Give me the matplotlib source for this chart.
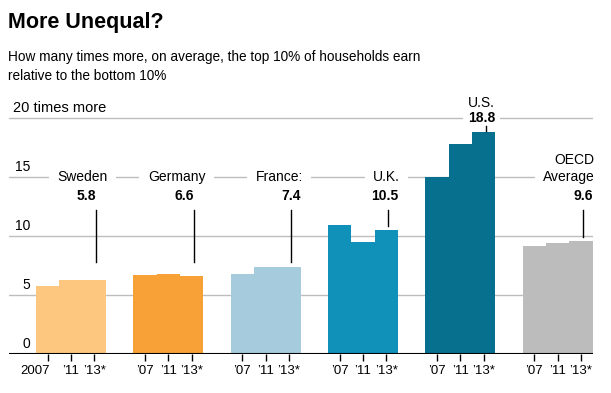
import matplotlib
matplotlib.use("Agg")
import matplotlib.pyplot as plt
import matplotlib.transforms as mtransforms
import numpy as np

countries = ["Sweden", "Germany", "France:", "U.K.", "U.S.", "OECD\nAverage"]
year_labels = ["2007", "\u201911", "\u201913*"]
later_year_labels = ["\u201907", "\u201911", "\u201913*"]
v2007 = [5.8, 6.7, 6.8, 11.0, 15.0, 9.2]
v2011 = [6.3, 6.8, 7.4, 9.5, 17.8, 9.4]
v2013 = [6.3, 6.6, 7.4, 10.5, 18.8, 9.6]
callout_values = ["5.8", "6.6", "7.4", "10.5", "18.8", "9.6"]
y_ticks = [0, 5, 10, 15, 20]
colors = ["#fdc77f", "#f8a137", "#a6cbdd", "#0f91b9", "#07708f", "#bcbcbc"]

plt.rcParams["font.family"] = ["Liberation Sans", "DejaVu Sans"]

fig = plt.figure(figsize=(6.11, 3.93), dpi=100)
ax = fig.add_axes([9 / 611, 38.7 / 393, 584 / 611, 247.8 / 393])
ax.set_xlim(-0.637, 5.363)
ax.set_ylim(0, 21)

w = 0.24
groups = np.arange(len(countries))
series = [v2007, v2011, v2013]
for i, vals in enumerate(series):
    ax.bar(groups + (i - 1) * w, vals, width=w, color=colors, zorder=2,
           linewidth=0)

for y in y_ticks[1:]:
    ax.axhline(y, color="#bdbdbd", lw=1, zorder=1)
ax.axhline(0, color="black", lw=1.5, zorder=3)

for s in ax.spines.values():
    s.set_visible(False)
ax.set_yticks([])
labs = []
for g in groups:
    labs.extend(year_labels if g == 0 else later_year_labels)
ticks = [groups[g] + (i - 1) * w for g in groups for i in range(3)]
ax.set_xticks(ticks)
ax.set_xticklabels(labs, fontsize=9.5)
ax.tick_params(axis="x", length=5, width=1, color="black", pad=3)
# "2007" ends at its tick so it does not run into "'11"
first = ax.get_xticklabels()[0]
first.set_ha("right")
first.set_transform(first.get_transform() +
                    mtransforms.ScaledTranslation(2 / 100, 0, fig.dpi_scale_trans))

# y-axis numbers sit above their gridlines
trans = mtransforms.blended_transform_factory(ax.transAxes, ax.transData)
for y in y_ticks[:-1]:
    ax.text(0.036, y + 0.3, str(y), transform=trans, ha="right", va="bottom",
            fontsize=10)
ax.text(0.007, 20.3, "20 times more", transform=trans, ha="left",
        va="bottom", fontsize=10.5)

# callouts
white = dict(facecolor="white", edgecolor="none", boxstyle="square,pad=0.6")
for g, (name, val) in enumerate(zip(countries, callout_values)):
    lx = g + w + 0.02
    right = g + 1.5 * w
    top = v2013[g]
    if name == "U.S.":
        ax.text(lx - 0.04, 20, val, ha="center", va="center", fontsize=10,
                fontweight="bold", bbox=dict(facecolor="white", edgecolor="none",
                                             boxstyle="square,pad=0.35"), zorder=4)
        ax.text(lx - 0.04, 21.3, name, ha="center", va="center", fontsize=10,
                zorder=4, clip_on=False)
        ax.plot([lx, lx], [19.35, top + 0.1], color="black", lw=1, zorder=4)
        continue
    lines = name.split("\n")
    ax.text(right + 0.02, 15, lines[-1], ha="right", va="center", fontsize=10,
            bbox=white, zorder=4)
    if len(lines) > 1:
        ax.text(right + 0.02, 16.5, lines[0], ha="right", va="center",
                fontsize=10, zorder=4)
    vx = lx if g < 2 else right
    ax.text(vx, 13.4, val, ha="right", va="center", fontsize=10,
            fontweight="bold", zorder=4)
    end = 7.8 if g < 3 else top + 0.35
    ax.plot([lx, lx], [12.2, end], color="black", lw=1, zorder=4)

fig.text(8 / 611, 1 - 12 / 393, "More Unequal?", fontsize=15.5, fontweight="bold",
         ha="left", va="top")
fig.text(8 / 611, 1 - 50 / 393,
         "How many times more, on average, the top 10% of households earn\n"
         "relative to the bottom 10%", fontsize=9.8, ha="left", va="top",
         linespacing=1.45)

fig.savefig("out.png", dpi=100)
